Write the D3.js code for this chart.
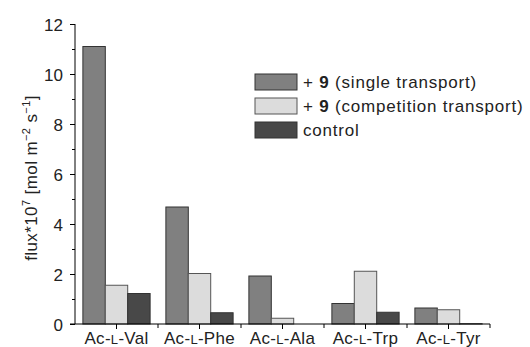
<!DOCTYPE html>
<html>
<head>
<meta charset="utf-8">
<script src="https://cdn.jsdelivr.net/npm/d3@7"></script>
<style>
  body { margin: 0; background: #fff; }
  text { font-family: "Liberation Sans", Arial, sans-serif; fill: #222; }
</style>
</head>
<body>
<svg width="530" height="347"></svg>
<script>
// amino acid substrates (the L is set in small caps)
const categories = ['Val', 'Phe', 'Ala', 'Trp', 'Tyr'];
const seriesNames = ['single', 'competition', 'control'];

// flux*10^7 values
const single = [11.1, 4.68, 1.92, 0.82, 0.64];
const competition = [1.55, 2.02, 0.23, 2.11, 0.57];
const control = [1.22, 0.45, 0.0, 0.47, 0.01];

const yTicks = [0, 2, 4, 6, 8, 10, 12];
const yMinor = [1, 3, 5, 7, 9, 11];

const colors = { single: '#808080', competition: '#dcdcdc', control: '#484848' };

const svg = d3.select('svg');
const margin = { top: 24, right: 40, bottom: 23, left: 75 };
const width = +svg.attr('width');
const height = +svg.attr('height');
const innerWidth = width - margin.left - margin.right;
const innerHeight = height - margin.top - margin.bottom;

const g = svg.append('g')
  .attr('transform', `translate(${margin.left},${margin.top})`);

const x = d3.scaleBand().domain(categories).range([0, innerWidth]).padding(0);
const xs = d3.scaleBand().domain(seriesNames)
  .range([x.bandwidth() * 0.095, x.bandwidth() * 0.905]).padding(0);
const y = d3.scaleLinear().domain([0, 12]).range([innerHeight, 0]);

const rows = categories.map((c, i) => ({
  cat: c,
  vals: [
    { key: 'single', v: single[i] },
    { key: 'competition', v: competition[i] },
    { key: 'control', v: control[i] }
  ]
}));

// bars
g.selectAll('g.grp')
  .data(rows)
  .join('g')
  .attr('class', 'grp')
  .attr('transform', d => `translate(${x(d.cat)},0)`)
  .selectAll('rect')
  .data(d => d.vals)
  .join('rect')
  .attr('x', d => xs(d.key))
  .attr('y', d => y(d.v))
  .attr('width', xs.bandwidth())
  .attr('height', d => y(0) - y(d.v))
  .style('fill', d => colors[d.key])
  .style('stroke', d => d.key === 'competition' ? '#555' : '#333')
  .style('stroke-width', 1);

// y axis
const yAxis = g.append('g')
  .call(d3.axisLeft(y).tickValues(yTicks).tickSize(5).tickSizeOuter(0).tickPadding(7));
yAxis.selectAll('text').style('font-size', '17px').attr('dy', '0.36em');
yAxis.select('.domain').attr('d', `M0,${innerHeight}V0`);
g.append('g')
  .call(d3.axisLeft(y).tickValues(yMinor).tickSize(3).tickFormat(''))
  .select('.domain').remove();

// x axis
const xAxis = g.append('g')
  .attr('transform', `translate(0,${innerHeight})`)
  .call(d3.axisBottom(x).tickSize(5).tickSizeOuter(0).tickPadding(2).tickFormat(''));
xAxis.select('.domain').attr('d', `M-5,0H${innerWidth}`);
// boundary ticks between groups
xAxis.selectAll('line.bnd')
  .data(categories)
  .join('line')
  .attr('class', 'bnd')
  .attr('x1', d => x(d) + x.bandwidth())
  .attr('x2', d => x(d) + x.bandwidth())
  .attr('y1', 0).attr('y2', 4)
  .style('stroke', '#000');

xAxis.selectAll('text.cat')
  .data(categories)
  .join('text')
  .attr('class', 'cat')
  .attr('x', d => x(d) + x.bandwidth() / 2)
  .attr('y', 19.5)
  .attr('text-anchor', 'middle')
  .style('font-size', '17px')
  .style('letter-spacing', '0.3px')
  .each(function(d) {
    const t = d3.select(this);
    t.append('tspan').text('Ac-');
    t.append('tspan').style('font-size', '13px').text('L');
    t.append('tspan').text('-' + d);
  });

// y label
const yl = svg.append('text')
  .attr('transform', 'translate(37,178) rotate(-90)')
  .attr('text-anchor', 'middle')
  .style('font-size', '17px')
  .style('letter-spacing', '0.4px');
yl.append('tspan').text('flux*10');
yl.append('tspan').attr('dy', -7).style('font-size', '11px').text('7');
yl.append('tspan').attr('dy', 7).text(' [mol m');
yl.append('tspan').attr('dy', -7).style('font-size', '11px').text('\u22122');
yl.append('tspan').attr('dy', 7).text(' s');
yl.append('tspan').attr('dy', -7).style('font-size', '11px').text('\u22121');
yl.append('tspan').attr('dy', 7).text(']');

// legend
const legend = svg.append('g').attr('transform', 'translate(255,74)');
const legendItems = [
  { key: 'single', bold: '9', rest: ' (single transport)' },
  { key: 'competition', bold: '9', rest: ' (competition transport)' },
  { key: 'control', bold: null, rest: 'control' }
];
const li = legend.selectAll('g')
  .data(legendItems)
  .join('g')
  .attr('transform', (d, i) => `translate(0,${i * 24})`);
li.append('rect')
  .attr('width', 42).attr('height', 16)
  .style('fill', d => colors[d.key])
  .style('stroke', d => d.key === 'competition' ? '#555' : '#333');
li.append('text')
  .attr('x', 48).attr('y', 14)
  .style('font-size', '17px')
  .style('letter-spacing', '0.8px')
  .each(function(d) {
    const t = d3.select(this);
    if (d.bold) {
      t.append('tspan').text('+ ');
      t.append('tspan').style('font-weight', 'bold').text(d.bold);
    }
    t.append('tspan').text(d.rest);
  });
</script>
</body>
</html>
